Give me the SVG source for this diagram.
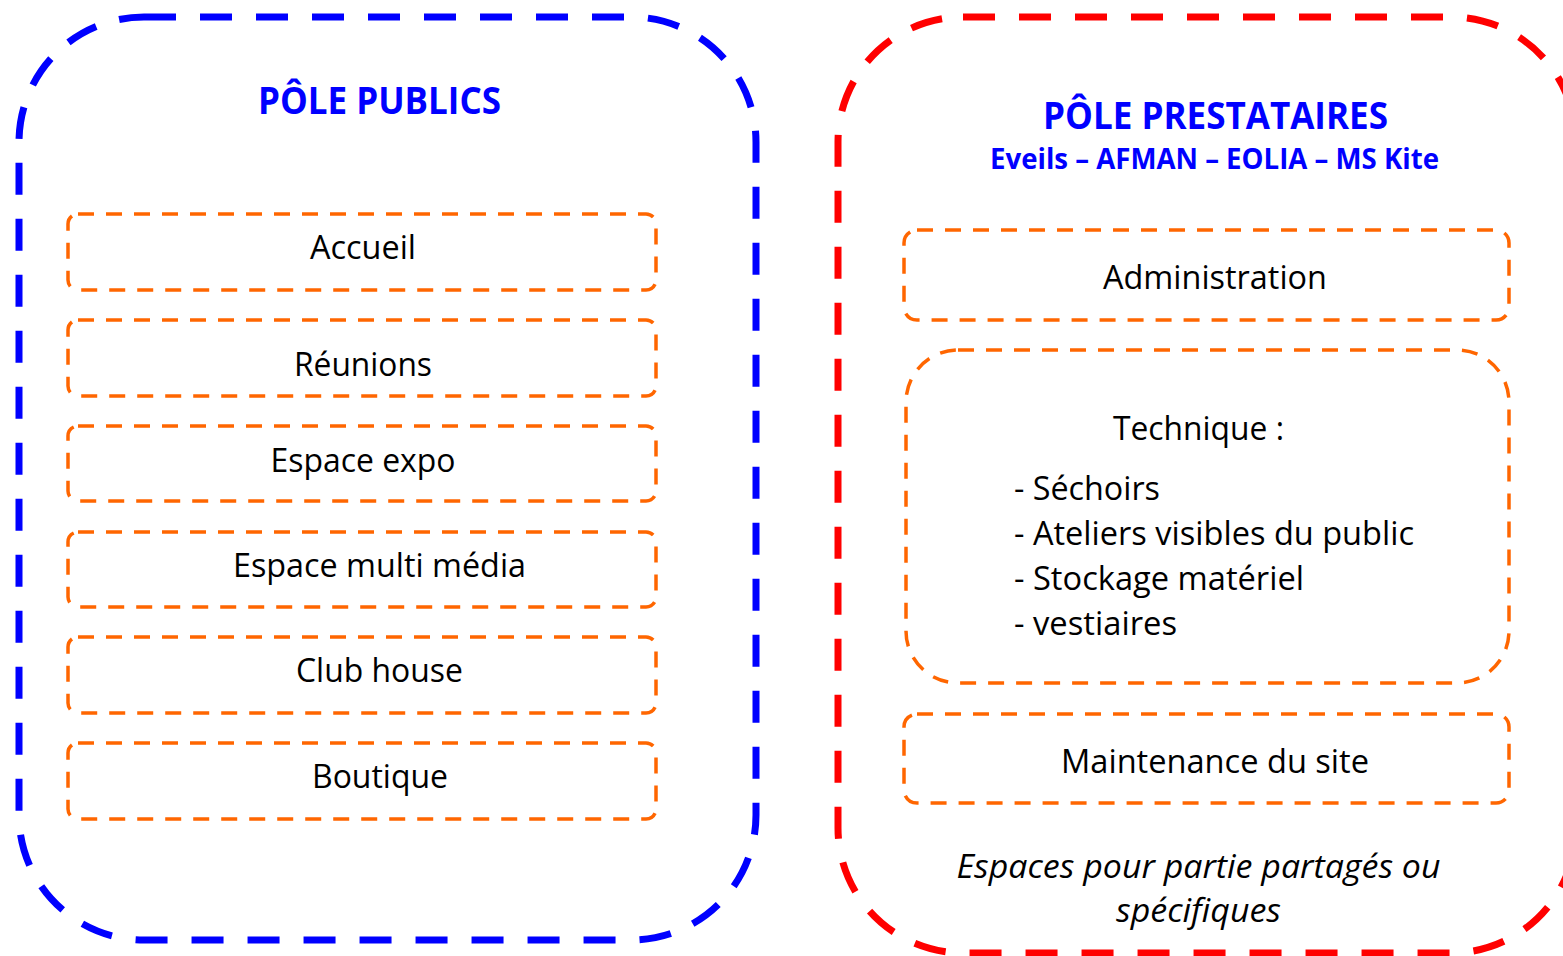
<svg xmlns="http://www.w3.org/2000/svg" width="1563" height="956" viewBox="0 0 1563 956">
<style>
.pole{fill:none;stroke-width:7;stroke-dasharray:32 24;}
.blue{stroke:#0000FF;}
.red{stroke:#FF0000;}
.item{fill:none;stroke:#FF6600;stroke-width:3.5;stroke-dasharray:16 12;}
.t{font-family:"Open Sans","Liberation Sans",sans-serif;font-size:32.5px;fill:#000;}
.c{text-anchor:middle;}
.title{font-family:"Open Sans","Liberation Sans",sans-serif;font-weight:bold;font-size:37px;fill:#0000FF;text-anchor:middle;}
.sub{font-family:"Open Sans","Liberation Sans",sans-serif;font-weight:bold;font-size:28px;fill:#0000FF;text-anchor:middle;}
.it{font-style:italic;}
</style>
<rect width="1563" height="956" fill="#FFFFFF"/>
<g id="pole-publics">
  <rect class="pole blue" x="19" y="17" width="737" height="923" rx="125" ry="125"/>
  <text class="title" x="379.5" y="114" textLength="243" lengthAdjust="spacingAndGlyphs">PÔLE PUBLICS</text>
</g>
<g id="accueil">
  <rect class="item" x="68" y="214" width="588" height="76" rx="10" ry="10"/>
  <text class="t c" x="363" y="259" textLength="106" lengthAdjust="spacingAndGlyphs">Accueil</text>
</g>
<g id="reunions">
  <rect class="item" x="68" y="320" width="588" height="76" rx="10" ry="10"/>
  <text class="t c" x="363" y="376" textLength="138" lengthAdjust="spacingAndGlyphs">Réunions</text>
</g>
<g id="espace-expo">
  <rect class="item" x="68" y="426" width="588" height="75" rx="10" ry="10"/>
  <text class="t c" x="363" y="472" textLength="185" lengthAdjust="spacingAndGlyphs">Espace expo</text>
</g>
<g id="espace-multimedia">
  <rect class="item" x="68" y="532" width="588" height="75" rx="10" ry="10"/>
  <text class="t c" x="379.5" y="577" textLength="293" lengthAdjust="spacingAndGlyphs">Espace multi média</text>
</g>
<g id="club-house">
  <rect class="item" x="68" y="637" width="588" height="76" rx="10" ry="10"/>
  <text class="t c" x="379.5" y="682" textLength="167" lengthAdjust="spacingAndGlyphs">Club house</text>
</g>
<g id="boutique">
  <rect class="item" x="68" y="743" width="588" height="76" rx="10" ry="10"/>
  <text class="t c" x="380" y="788" textLength="136" lengthAdjust="spacingAndGlyphs">Boutique</text>
</g>
<g id="pole-prestataires">
  <rect class="pole red" x="838" y="17" width="738" height="936" rx="125" ry="125"/>
  <text class="title" x="1215.5" y="129" textLength="345" lengthAdjust="spacingAndGlyphs">PÔLE PRESTATAIRES</text>
  <text class="sub" x="1214.5" y="169" textLength="449" lengthAdjust="spacingAndGlyphs">Eveils – AFMAN – EOLIA – MS Kite</text>
  <text class="t c it" x="1198.5" y="878" textLength="484" lengthAdjust="spacingAndGlyphs">Espaces pour partie partagés ou</text>
  <text class="t c it" x="1198.5" y="922" textLength="165" lengthAdjust="spacingAndGlyphs">spécifiques</text>
</g>
<g id="administration">
  <rect class="item" x="904" y="230" width="605" height="90" rx="13" ry="13"/>
  <text class="t c" x="1215" y="289" textLength="224" lengthAdjust="spacingAndGlyphs">Administration</text>
</g>
<g id="technique">
  <rect class="item" x="906" y="350" width="603" height="333" rx="52" ry="52"/>
  <text class="t c" x="1198.5" y="440" textLength="171" lengthAdjust="spacingAndGlyphs">Technique :</text>
  <text class="t" x="1014" y="500" textLength="146" lengthAdjust="spacingAndGlyphs">- Séchoirs</text>
  <text class="t" x="1014" y="545" textLength="400" lengthAdjust="spacingAndGlyphs">- Ateliers visibles du public</text>
  <text class="t" x="1014" y="590" textLength="290" lengthAdjust="spacingAndGlyphs">- Stockage matériel</text>
  <text class="t" x="1014" y="635" textLength="163" lengthAdjust="spacingAndGlyphs">- vestiaires</text>
</g>
<g id="maintenance">
  <rect class="item" x="904" y="714" width="605" height="89" rx="13" ry="13"/>
  <text class="t c" x="1215" y="773" textLength="308" lengthAdjust="spacingAndGlyphs">Maintenance du site</text>
</g>
<g id="connectors"/>
</svg>
